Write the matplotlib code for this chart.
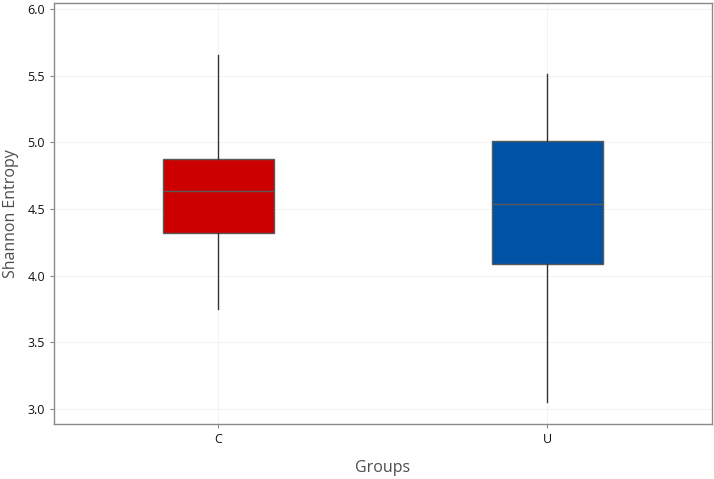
#! /usr/bin/env python3

import matplotlib
matplotlib.use('Agg')
from matplotlib import pyplot as plt

plt.rcParams['font.family'] = ['Open Sans', 'DejaVu Sans']

groups = ['C', 'U']
whislo = [3.75, 3.05]
q1 = [4.32, 4.09]
med = [4.635, 4.54]
q3 = [4.877, 5.01]
whishi = [5.655, 5.51]
fill_colors = ['#CC0000', '#0052A5']

yticks = [3.0, 3.5, 4.0, 4.5, 5.0, 5.5, 6.0]

stats = []
for i, g in enumerate(groups):
    stats.append(dict(label=g, whislo=whislo[i], q1=q1[i], med=med[i],
                      q3=q3[i], whishi=whishi[i], fliers=[]))

fig = plt.figure(figsize=(7.14, 4.79), dpi=100)
ax = fig.add_axes([54/714, 1 - 424/479, (712-54)/714, (424-3)/479])

bp = ax.bxp(stats, positions=[1, 2], widths=0.34, patch_artist=True,
            showcaps=False, showfliers=False,
            boxprops=dict(edgecolor='#595959', linewidth=1.0),
            medianprops=dict(color='#595959', linewidth=1.0),
            whiskerprops=dict(color='#333333', linewidth=1.0),
            zorder=3)
for patch, c in zip(bp['boxes'], fill_colors):
    patch.set_facecolor(c)

ax.set_xlim(0.5, 2.5)
ax.set_ylim(2.887, 6.045)
ax.set_yticks(yticks)
ax.set_yticklabels([f'{v:.1f}' for v in yticks])
ax.set_xticks([1, 2])
ax.set_xticklabels(groups)

ax.grid(True, color='#f0f0f0', linewidth=0.6, zorder=0)
ax.set_axisbelow(True)
for s in ax.spines.values():
    s.set_color('#8a8a8a')
    s.set_linewidth(1.0)

ax.tick_params(axis='both', colors='#8a8a8a', labelcolor='#111111',
               labelsize=9, length=3, width=0.8)
ax.set_xlabel('Groups', fontsize=11.5, color='#4d4d4d', labelpad=10)
ax.set_ylabel('Shannon Entropy', fontsize=11.5, color='#4d4d4d', labelpad=6)

fig.savefig('out.png', dpi=100)
